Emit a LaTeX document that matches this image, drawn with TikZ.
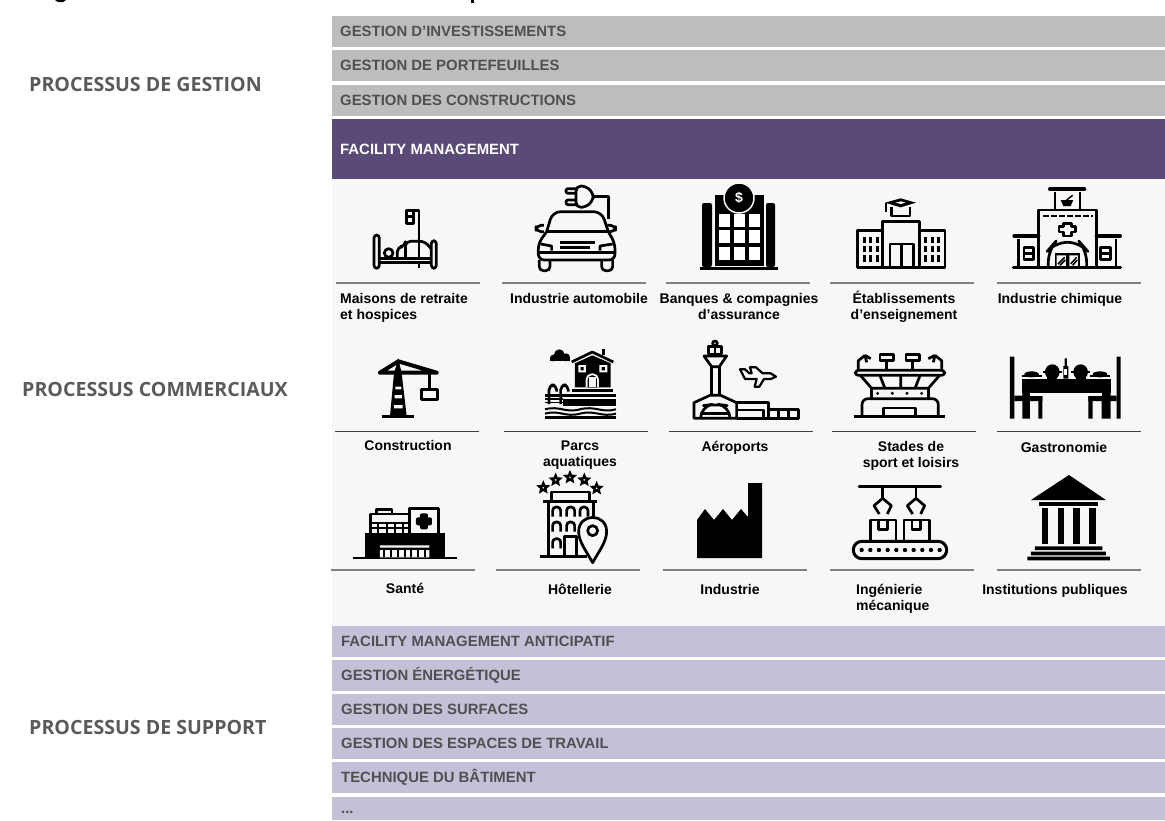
\documentclass[tikz,border=0pt]{standalone}
\usepackage{fontspec}
\setmainfont{Liberation Sans}
\newfontfamily\sidefont{Open Sans}
\usetikzlibrary{shapes.geometric}
\definecolor{barGray}{HTML}{BDBDBD}
\definecolor{barPurple}{HTML}{594A78}
\definecolor{barLight}{HTML}{C6BFD8}
\definecolor{panelGray}{HTML}{F7F7F7}
\definecolor{textGray}{HTML}{505050}
\definecolor{sideGray}{HTML}{5A5A5A}
\tikzset{
    zoomed/.style 2 args={shift={(#1,#2)},x=0.3333pt,y=-0.3333pt},
    icon/.style={line width=2.7pt,line join=round},
    barlabel/.style={anchor=west,inner sep=0pt,text=textGray,font=\bfseries\fontsize{14.9}{16}\selectfont},
    sidelabel/.style={anchor=west,inner sep=0pt,text=sideGray,font=\sidefont\bfseries\fontsize{19.6}{22}\selectfont},
    sector/.style={inner sep=0pt,align=center,font=\bfseries\fontsize{14}{16}\selectfont}
}
\begin{document}
\begin{tikzpicture}[x=1pt,y=-1pt]
\useasboundingbox (0,0) rectangle (1165,820);
% what is left of the cut-off title
\fill[black] (55,0) -- (66,0) -- (63,2) -- (58,2) -- cycle;
\fill[black] (471,0) rectangle (474,2.5);
\fill[panelGray] (332,180) rectangle (1165,626);
\foreach \y/\h/\p/\labeltext in {16/31/barinv/{GESTION D’INVESTISSEMENTS}, 50/31/barport/{GESTION DE PORTEFEUILLES}, 85/31/barconst/{GESTION DES CONSTRUCTIONS}}{
    \fill[barGray] (332,\y) rectangle ++(833,\h);
    \node[barlabel] (\p) at (340,\y+15.5) {\labeltext};
}
\fill[barPurple] (332,119) rectangle (1165,179);
\node[barlabel, text=white] (barfm) at (340,149) {FACILITY MANAGEMENT};
\foreach \y/\h/\p/\labeltext in {626/31/baranti/{FACILITY MANAGEMENT ANTICIPATIF}, 660/31/barener/{GESTION ÉNERGÉTIQUE}, 694/31/barsurf/{GESTION DES SURFACES}, 728/31/baresp/{GESTION DES ESPACES DE TRAVAIL}, 762/31/bartech/{TECHNIQUE DU BÂTIMENT}, 797/23/bardots/{...}}{
    \fill[barLight] (332,\y) rectangle ++(833,\h);
    \node[barlabel] (\p) at (341,\y+15.5) {\labeltext};
}
\node[sidelabel] (gestion) at (29,84) {PROCESSUS DE GESTION};
\node[sidelabel] (commerce) at (22,389) {PROCESSUS COMMERCIAUX};
\node[sidelabel] (support) at (29,727) {PROCESSUS DE SUPPORT};
% separators under the icons
\foreach \y/\a/\b/\c/\d/\e in {283/336/502/666/830/997, 570/331/496/663/830/997}{
    \foreach \x in {\a,\b,\c,\d,\e}
        \draw[gray, line width=1.2pt] (\x,\y) -- ++(143.5,0);
}
\foreach \x in {335,504,669,832,997}
    \draw[black!75, line width=1pt] (\x,431) -- ++(143.5,0);
% sector names
\foreach \x/\y/\p/\labeltext in {579/298/auto/{Industrie automobile}, 739/306/banks/{Banques \& compagnies\\d’assurance}, 904/306.5/schools/{Établissements\\d’enseignement}, 1060/300/chem/{Industrie chimique}, 408/445/constr/{Construction}, 580/455.5/parks/{Parcs\\aquatiques}, 735/448/airports/{Aéroports}, 911/456/stadiums/{Stades de\\sport et loisirs}, 1064/447/food/{Gastronomie}, 405/588/health/{Santé}, 580/589/hotels/{Hôtellerie}, 730/589/industry/{Industrie}, 1055/591/public/{Institutions publiques}}{
    \node[sector] (\p) at (\x,\y) {\labeltext};
}
\node[sector, anchor=west, align=left] (homes) at (340,308) {Maisons de retraite\\et hospices};
\node[sector, anchor=west, align=left] (mech) at (856,598.5) {Ingénierie\\mécanique};
% bed
\begin{scope}[zoomed={330}{180}]
\draw[icon, rounded corners=3pt] (132,265) -- (132,165) -- (148,165) -- (148,265) -- cycle;
\draw[icon, rounded corners=3pt] (304,265) -- (304,182) -- (319,182) -- (319,265) -- cycle;
\draw[icon] (148,235) -- (304,235) (148,248) -- (304,248) (267,248) -- (267,265);
\draw[icon] (176,219) circle (13);
\draw[icon, rounded corners=5pt] (202,233) -- (202,200) -- (226,200) -- (226,184) -- (285,184) -- (302,205);
\draw[icon] (226,200) -- (226,233);
\draw[icon] (267,232) -- (267,92) -- (250,92);
\draw[icon] (229,92) rectangle (250,130) (229,110) -- (250,110);
\end{scope}
% car with plug
\begin{scope}[zoomed={330}{180}]
\draw[icon, rounded corners=5pt] (738,18) -- (768,18) -- (790,40) -- (790,60) -- (768,82) -- (738,82) -- cycle;
\draw[icon, rounded corners=2pt] (738,26) -- (708,26) -- (708,40) -- (738,40) (738,60) -- (708,60) -- (708,74) -- (738,74);
\draw[icon] (788,50) -- (835,50) -- (835,118);
\draw[icon, rounded corners=8pt] (650,155) -- (668,95) -- (815,95) -- (835,155);
\draw[icon] (650,155) -- (835,155);
\draw[icon, rounded corners=6pt] (650,155) -- (625,190) -- (625,240) -- (855,240) -- (855,190) -- (835,155);
\draw[icon] (625,218) -- (855,218);
\draw[icon, rounded corners=4pt] (628,240) -- (628,272) -- (660,272) -- (660,240);
\draw[icon, rounded corners=4pt] (815,240) -- (815,272) -- (848,272) -- (848,240);
\draw[icon, rounded corners=5pt] (642,136) -- (618,136) -- (618,155) -- (642,155);
\draw[icon, rounded corners=5pt] (832,136) -- (857,136) -- (857,155) -- (832,155);
\draw[icon] (632,192) -- (665,198) -- (665,212) (810,212) -- (810,198) -- (848,192);
\draw[icon] (690,187) -- (795,187) (690,203) -- (780,203);
\end{scope}
% bank
\fill[black, rounded corners=2pt] (702,267) -- (702,203) -- (712,203) -- (712,267) -- cycle;
\fill[black, rounded corners=2pt] (766,267) -- (766,203) -- (775,203) -- (775,267) -- cycle;
\fill[black] (715,195) rectangle (764,266);
\fill[black] (700,267) rectangle (778,269.5);
\foreach \x in {719,734,749}
    \foreach \y in {214,230,247}
        \fill[white] (\x,\y) rectangle ++(10.5,13);
\fill[black, draw=panelGray, line width=1.5pt] (739,198) circle (15);
\node[text=white, inner sep=0pt, font=\bfseries\fontsize{14}{16}\selectfont] (dollar) at (739,198) {\$};
% school
\begin{scope}[zoomed={750}{180}]
\fill[black] (405,68) -- (452,55) -- (498,68) -- (452,82) -- cycle;
\fill[panelGray] (437,68) -- (452,64) -- (467,68) -- (452,72) -- cycle;
\draw[icon] (425,80) -- (425,108) -- (480,108) -- (480,80) (408,70) -- (408,95);
\draw[icon] (322,262) -- (322,152) -- (398,152) -- (398,125) -- (508,125) -- (508,152) -- (585,152) -- (585,262) -- cycle;
\draw[icon] (398,152) -- (398,262) (508,152) -- (508,262);
\draw[icon] (420,262) -- (420,192) -- (490,192) -- (490,262) (455,192) -- (455,262);
\foreach \x in {340,358,378,522,542,562}
    \foreach \y in {170,198,226}
        \fill[black] (\x,\y) rectangle ++(9,19);
\end{scope}
% pharmacy
\begin{scope}[zoomed={750}{180}]
\draw[line width=4pt, line cap=round] (900,28) -- (1003,28);
\draw[icon] (915,36) -- (915,90) (990,36) -- (990,90);
\fill[black] (932,60) -- (970,60) -- (962,78) -- (940,78) -- cycle;
\draw[line width=1.5pt] (950,60) -- (968,46);
\draw[icon] (865,262) -- (865,90) -- (1040,90) -- (1040,262);
\draw[icon, dash pattern=on 5.5pt off 2.5pt] (880,108) -- (1030,108);
\draw[line width=4pt, line cap=round] (793,168) -- (865,168) (1040,168) -- (1110,168);
\draw[icon] (806,176) -- (806,262) (1098,176) -- (1098,262);
\draw[line width=3pt, line cap=round] (790,262) -- (1112,262);
\draw[icon] (822,202) rectangle (850,238) (822,220) -- (850,220);
\draw[icon] (1052,202) rectangle (1082,238) (1052,220) -- (1082,220);
\draw[icon] (940,130) -- (964,130) -- (964,140) -- (977,140) -- (977,156) -- (964,156) -- (964,168) -- (940,168) -- (940,156) -- (927,156) -- (927,140) -- (940,140) -- cycle;
\draw[icon, rounded corners=12pt] (895,262) -- (895,210) -- (915,187) -- (990,187) -- (1010,210) -- (1010,262);
\fill[black] (914,218) rectangle (990,262);
\fill[panelGray] (920,226) rectangle (948,258) (958,226) rectangle (984,258);
\draw[line width=1.5pt] (924,252) -- (944,232) (930,256) -- (946,240) (962,252) -- (980,232) (968,256) -- (982,240);
\end{scope}
% crane
\begin{scope}[zoomed={330}{330}]
\fill[black] (205,85) -- (215,130) -- (230,258) -- (180,258) -- (192,130) -- cycle;
\draw[line width=4pt, line cap=round] (150,128) -- (320,128) (150,128) -- (205,94) -- (320,128);
\fill[panelGray] (196,170) rectangle (214,178) (194,195) rectangle (216,205) (192,225) rectangle (218,235);
\draw[line width=3.5pt] (157,260) -- (252,260);
\draw[icon] (298,130) -- (298,178);
\draw[icon] (274,178) rectangle (323,208);
\end{scope}
% water park
\begin{scope}[zoomed={330}{330}]
\fill[black] (670,84) circle (10) (688,74) circle (16) (708,82) circle (12);
\fill[black] (660,84) rectangle (720,92);
\draw[icon] (725,96) -- (787,66) -- (850,96);
\fill[black] (817,58) rectangle (826,74);
\fill[black] (735,100) -- (787,76) -- (842,100) -- (842,172) -- (735,172) -- cycle;
\fill[panelGray] (745,105) rectangle (768,127) (808,105) rectangle (832,127);
\fill[black] (752,111) rectangle (761,121) (815,111) rectangle (825,121);
\draw[panelGray, line width=1.8pt, rounded corners=5pt, fill=black] (770,172) -- (770,133) -- (804,133) -- (804,172);
\fill[panelGray] (776,142) rectangle (798,170);
\draw[icon] (725,182) -- (848,182);
\draw[icon] (646,196) -- (858,196);
\fill[black] (700,207) rectangle (858,229);
\draw[icon, rounded corners=5pt] (657,222) -- (657,165) -- (680,165) -- (680,185);
\draw[icon, rounded corners=5pt] (692,222) -- (692,165) -- (715,165) -- (715,185);
\draw[line width=1.5pt] (645,207) -- (700,207) (645,218) -- (700,218);
\foreach \y in {238,251}
    \draw[line width=2pt] (645,\y) .. controls (690,\y-12) and (705,\y+12) .. (750,\y) .. controls (795,\y-12) and (815,\y+12) .. (858,\y);
\fill[black] (645,259) rectangle (858,268);
\end{scope}
% airport
\begin{scope}[zoomed={330}{330}]
\draw[icon] (1155,40) circle (7);
\draw[icon] (1135,72) rectangle (1175,50);
\draw[icon] (1155,50) -- (1155,72);
\draw[icon] (1122,78) -- (1190,78) -- (1168,110) -- (1145,110) -- cycle;
\draw[icon] (1145,110) -- (1145,197) (1168,110) -- (1168,197);
\draw[icon] (1092,265) -- (1092,218) -- (1140,196) -- (1172,196) -- (1220,218) -- (1220,265) -- cycle;
\draw[icon, rounded corners=12pt] (1112,265) -- (1112,228) -- (1156,222) -- (1200,228) -- (1200,265);
\draw[icon] (1112,250) -- (1200,250);
\end{scope}
\begin{scope}[zoomed={750}{330}]
\draw[icon] (-40,218) -- (55,218) -- (55,265) (-40,240) -- (40,240) -- (40,265) (-40,265) -- (145,265);
\draw[icon] (55,238) rectangle (145,265) (85,238) -- (85,265) (115,238) -- (115,265);
\draw[line width=2.2pt, line join=round] (-30,118) -- (-15,118) -- (-2,130) -- (5,130) -- (0,112) -- (18,112) -- (38,130) -- (62,130) -- (78,140) -- (62,147) -- (42,147) -- (28,170) -- (14,170) -- (20,147) -- (-15,147) -- cycle;
\end{scope}
% stadium
\begin{scope}[zoomed={750}{330}]
\draw[icon] (390,74) rectangle (430,92) (468,74) rectangle (508,92);
\draw[icon] (410,92) -- (410,120) (488,92) -- (488,120);
\draw[icon] (325,120) -- (325,92) -- (345,76) (345,76) -- (362,86) (345,76) -- (350,97);
\draw[icon] (575,120) -- (575,92) -- (555,76) (555,76) -- (535,86) (555,76) -- (550,97);
\draw[icon, rounded corners=3pt] (316,121) rectangle (584,136);
\draw[icon] (332,137) -- (365,175) -- (535,175) -- (568,137) (390,137) -- (405,175) (452,137) -- (452,175) (510,137) -- (495,175);
\draw[icon] (365,175) -- (365,205) (535,175) -- (535,205);
\foreach \x in {383,427,471,515}
    \fill[black] (\x,190) circle (5);
\draw[icon, rounded corners=6pt] (336,260) -- (336,206) -- (565,206) -- (565,260);
\draw[icon] (400,260) -- (400,234) -- (497,234) -- (497,260);
\draw[icon] (313,260) -- (585,260);
\end{scope}
% dining table
\begin{scope}[zoomed={750}{330}]
\fill[black] (780,80) rectangle (793,266) (1100,80) rectangle (1112,266);
\fill[black] (817,146) rectangle (1082,188);
\fill[black] (793,197) rectangle (877,213) (1015,197) rectangle (1100,213);
\fill[black] (817,188) rectangle (840,266) (1055,188) rectangle (1082,266);
\fill[black] (865,197) rectangle (877,266) (1015,197) rectangle (1028,266);
\fill[panelGray] (840,188) rectangle (1055,197);
\foreach \x in {907,992}{
    \fill[black] (\x,126) ellipse (22 and 23);
    \fill[black] (\x-28,122) rectangle (\x+28,130);
    \fill[black] (\x-15,130) rectangle (\x+15,146);
}
\foreach \x in {845,1050}{
    \fill[black] (\x,133) ellipse (22 and 9);
    \fill[black] (\x-30,135) rectangle (\x+30,140);
}
\fill[black] (940,108) rectangle (955,146) (944,85) rectangle (951,108);
\fill[panelGray] (943,118) rectangle (952,136);
\end{scope}
% hospital
\begin{scope}[zoomed={330}{470}]
\draw[line width=2pt] (70,265) -- (380,265);
\fill[black] (105,188) rectangle (345,265);
\fill[panelGray] (150,226) rectangle (298,233) (150,240) rectangle (298,262);
\foreach \x in {160,180,200,221,241,261,281}
    \fill[black] (\x,240) rectangle ++(6,22);
\draw[icon] (122,188) -- (122,132) -- (238,132) (140,130) -- (140,118) -- (186,118) -- (186,130);
\draw[line width=2pt] (122,160) -- (238,160) (122,174) -- (238,174) (145,160) -- (145,188) (170,160) -- (170,188) (195,160) -- (195,188) (218,160) -- (218,188);
\draw[icon] (238,188) -- (238,115) -- (326,115) -- (326,188);
\fill[black, rounded corners=2pt] (270,130) rectangle (294,178) (258,142) rectangle (306,166);
\end{scope}
% hotel
\begin{scope}[zoomed={330}{470}]
\foreach \x/\y/\p in {640/53/stara, 677/30/starb, 720/22/starc, 763/30/stard, 800/55/stare}
    \node[star, star points=5, star point ratio=2.2, draw, line width=2.3pt, inner sep=0pt, minimum size=9pt] (\p) at (\x,\y) {};
\draw[icon] (665,95) -- (665,66) -- (778,66) -- (778,95);
\draw[icon] (638,95) -- (802,95) (655,95) -- (655,260) (790,95) -- (790,160) (630,260) -- (770,260);
\foreach \x/\y in {680/140, 722/140, 762/140, 680/185, 722/185, 680/235}
    \draw[icon, rounded corners=3.5pt] (\x-12,\y) -- (\x-12,\y-29) -- (\x+12,\y-29) -- (\x+12,\y);
\draw[icon] (703,260) -- (703,200) -- (740,200) -- (740,260);
\draw[icon, fill=panelGray] (788,278) .. controls (770,245) and (746,215) .. (746,185) .. controls (746,128) and (830,128) .. (830,185) .. controls (830,215) and (806,245) .. (788,278) -- cycle;
\draw[icon] (788,182) circle (15);
\end{scope}
% factory
\fill[black] (697,520) -- (705,509) -- (714,520) -- (723,509) -- (732,520) -- (741,509) -- (748,517) -- (748,483) -- (762,483) -- (762,558) -- (697,558) -- cycle;
% conveyor
\begin{scope}[zoomed={750}{470}]
\draw[icon, line cap=round] (327,50) -- (572,50);
\foreach \x in {398,498}{
    \draw[icon] (\x,50) -- (\x,85);
    \draw[icon] (\x-10,132) -- (\x-26,107) -- (\x,85) -- (\x+26,107) -- (\x+14,132);
}
\foreach \x in {362,462}{
    \draw[icon] (\x,212) -- (\x,150) -- (\x+76,150) -- (\x+76,212);
    \draw[icon] (\x+24,150) -- (\x+24,178) -- (\x+50,178) -- (\x+50,150);
}
\draw[line width=3pt, rounded corners=8.5pt] (310,214) rectangle (590,266);
\foreach \x in {335,361,387,413,439,465,491,517,543,569}
    \fill[black] (\x,240) circle (6.5);
\end{scope}
% public institution
\begin{scope}[zoomed={750}{470}]
\fill[black] (843,90) -- (957,15) -- (1068,90) -- cycle;
\fill[black] (866,97) rectangle (1045,108);
\foreach \x in {875,923,970,1018}
    \fill[black] (\x,115) rectangle ++(20,107);
\fill[black] (855,229) rectangle (1057,240) (843,245) rectangle (1068,256) (832,260) rectangle (1080,271);
\end{scope}
\end{tikzpicture}
\end{document}
